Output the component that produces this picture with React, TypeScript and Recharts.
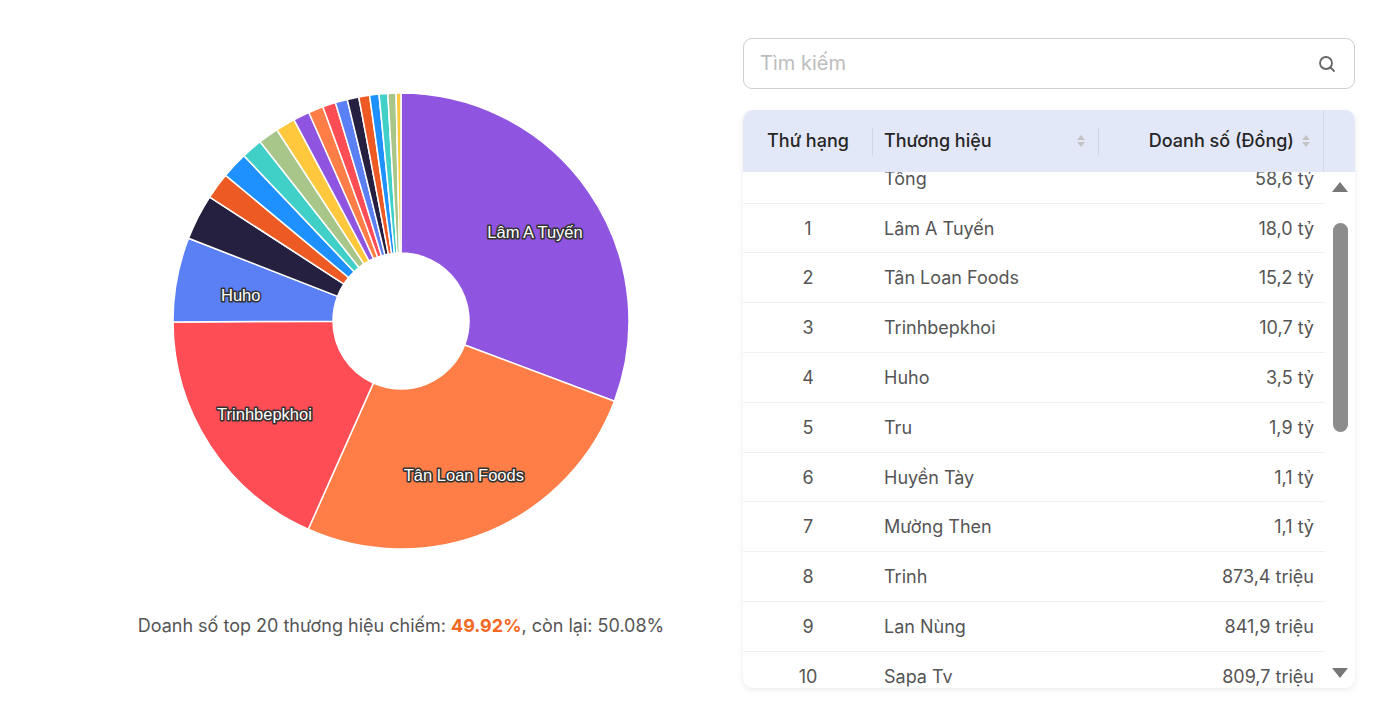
import React from "react";
import { PieChart, Pie, Cell } from "recharts";

const brandNames = [
  "Lâm A Tuyến", "Tân Loan Foods", "Trinhbepkhoi", "Huho", "Tru",
  "Huyền Tày", "Mường Then", "Trinh", "Lan Nùng", "Sapa Tv",
  "Hạng 11", "Hạng 12", "Hạng 13", "Hạng 14", "Hạng 15",
  "Hạng 16", "Hạng 17", "Hạng 18", "Hạng 19", "Hạng 20",
];
// revenue in billions (tỷ đồng)
const brandRevenue = [
  18.0, 15.2, 10.7, 3.5, 1.9,
  1.1, 1.1, 0.8734, 0.8419, 0.8097,
  0.68, 0.62, 0.54, 0.5, 0.48,
  0.45, 0.39, 0.36, 0.34, 0.2,
];
const palette = [
  "#9055e0", "#ff7d46", "#ff4d55", "#5b80f6", "#25203f",
  "#ee5a24", "#1e90ff", "#40d0c8", "#a9c68a", "#ffc83d",
];
const topShare = "49.92%";
const restShare = "50.08%";
const visibleRows = 10;

const pieData = brandNames.map((name, i) => ({ name, value: brandRevenue[i] }));
const totalRevenue = brandRevenue.reduce((a, b) => a + b, 0);

const fmt = (v: number) =>
  v >= 1
    ? `${v.toFixed(1).replace(".", ",")} tỷ`
    : `${(v * 1000).toFixed(1).replace(".", ",")} triệu`;

const RAD = Math.PI / 180;
const renderLabel = (props: any) => {
  const { cx, cy, midAngle, value, name } = props;
  if (value < 3) return null;
  const r = 163;
  const x = cx + r * Math.cos(-midAngle * RAD);
  const y = cy + r * Math.sin(-midAngle * RAD) + 4;
  return (
    <text
      x={x}
      y={y}
      textAnchor="middle"
      dominantBaseline="central"
      fill="#ffffff"
      stroke="#333333"
      strokeWidth={3.2}
      paintOrder="stroke"
      strokeLinejoin="round"
      style={{ fontFamily: "'Liberation Sans', Arial, sans-serif", fontSize: 16.5 }}
    >
      {name}
    </text>
  );
};

const SortIcon = () => (
  <svg width="10" height="16" viewBox="0 0 10 16" style={{ display: "block" }}>
    <path d="M5 2 L9 7 L1 7 Z" fill="#c4c4c4" />
    <path d="M5 14 L9 9 L1 9 Z" fill="#c4c4c4" />
  </svg>
);

const font = "Inter, 'Noto Sans', sans-serif";
const ROW_H = 49.8;

export default function App() {
  const rows = [
    { rank: "", name: "Tổng", value: fmt(totalRevenue) },
    ...brandNames.slice(0, visibleRows).map((n, i) => ({
      rank: String(i + 1),
      name: n,
      value: fmt(brandRevenue[i]),
    })),
  ];
  return (
    <div
      style={{
        position: "absolute",
        left: 0,
        top: 0,
        width: 1390,
        height: 714,
        background: "#ffffff",
        overflow: "hidden",
        fontFamily: font,
      }}
    >
      <div style={{ position: "absolute", left: 0, top: 0 }}>
        <PieChart width={800} height={600} margin={{ top: 0, right: 0, bottom: 0, left: 0 }}>
          <Pie
            data={pieData}
            dataKey="value"
            nameKey="name"
            cx={401}
            cy={321}
            innerRadius={68}
            outerRadius={228}
            startAngle={90}
            endAngle={-270}
            stroke="#ffffff"
            strokeWidth={1.5}
            label={renderLabel}
            labelLine={false}
            isAnimationActive={false}
          >
            {pieData.map((d, i) => (
              <Cell key={d.name} fill={palette[i % palette.length]} />
            ))}
          </Pie>
        </PieChart>
      </div>

      <div
        style={{
          position: "absolute",
          left: 0,
          width: 802,
          top: 615,
          textAlign: "center",
          fontSize: 18,
          color: "#555555",
        }}
      >
        Doanh số top 20 thương hiệu chiếm:{" "}
        <span style={{ color: "#f26722", fontWeight: 700 }}>{topShare}</span>, còn lại: {restShare}
      </div>

      {/* search box */}
      <div
        style={{
          position: "absolute",
          left: 743,
          top: 38,
          width: 610,
          height: 49,
          border: "1px solid #cfcfcf",
          borderRadius: 9,
          boxSizing: "content-box",
        }}
      >
        <div
          style={{
            position: "absolute",
            left: 16,
            top: 0,
            lineHeight: "49px",
            fontSize: 20,
            color: "#bdbdbd",
          }}
        >
          Tìm kiếm
        </div>
        <svg
          width="20"
          height="20"
          viewBox="0 0 20 20"
          style={{ position: "absolute", left: 573, top: 15 }}
        >
          <circle cx="9" cy="9" r="6" fill="none" stroke="#666" strokeWidth="1.8" />
          <line x1="13.5" y1="13.5" x2="17" y2="17" stroke="#666" strokeWidth="1.8" strokeLinecap="round" />
        </svg>
      </div>

      {/* table */}
      <div
        style={{
          position: "absolute",
          left: 743,
          top: 110,
          width: 612,
          height: 578,
          borderRadius: 10,
          overflow: "hidden",
          boxShadow: "0 2px 6px rgba(0,0,0,0.08)",
          background: "#ffffff",
        }}
      >
        <div
          style={{
            position: "absolute",
            left: 0,
            top: 0,
            width: 612,
            height: 62,
            background: "#e3e8f9",
            zIndex: 2,
            fontSize: 18,
            fontWeight: 500,
            color: "#262626",
          }}
        >
          <div style={{ position: "absolute", left: 0, width: 130, textAlign: "center", lineHeight: "62px" }}>
            Thứ hạng
          </div>
          <div style={{ position: "absolute", left: 129, top: 18, width: 1, height: 28, background: "#cfd4e6" }} />
          <div style={{ position: "absolute", left: 141, lineHeight: "62px" }}>Thương hiệu</div>
          <div style={{ position: "absolute", left: 333, top: 23 }}>
            <SortIcon />
          </div>
          <div style={{ position: "absolute", left: 355, top: 18, width: 1, height: 28, background: "#cfd4e6" }} />
          <div style={{ position: "absolute", right: 61, lineHeight: "62px" }}>Doanh số (Đồng)</div>
          <div style={{ position: "absolute", left: 558, top: 23 }}>
            <SortIcon />
          </div>
          <div style={{ position: "absolute", left: 580, top: 0, width: 1, height: 62, background: "#d3d8ea" }} />
        </div>

        <div
          style={{
            position: "absolute",
            left: 0,
            top: 62,
            width: 582,
            height: 516,
            overflow: "hidden",
          }}
        >
          {rows.map((r, i) => (
            <div
              key={i}
              style={{
                position: "absolute",
                left: 0,
                top: -18.2 + i * ROW_H,
                width: 582,
                height: ROW_H,
                borderBottom: "1px solid #f0f0f0",
                boxSizing: "border-box",
                fontSize: 18,
                color: "#555555",
                lineHeight: `${ROW_H}px`,
              }}
            >
              <div style={{ position: "absolute", left: 0, width: 130, textAlign: "center" }}>{r.rank}</div>
              <div style={{ position: "absolute", left: 141 }}>{r.name}</div>
              <div style={{ position: "absolute", right: 11 }}>{r.value}</div>
            </div>
          ))}
        </div>

        {/* scrollbar */}
        <svg
          width="30"
          height="516"
          style={{ position: "absolute", left: 582, top: 62 }}
        >
          <path d="M15 10 L23 20 L7 20 Z" fill="#777" />
          <rect x="8" y="51" width="15" height="209" rx="7.5" fill="#8c8c8c" />
          <path d="M15 506 L23 496 L7 496 Z" fill="#777" />
        </svg>
      </div>
    </div>
  );
}
